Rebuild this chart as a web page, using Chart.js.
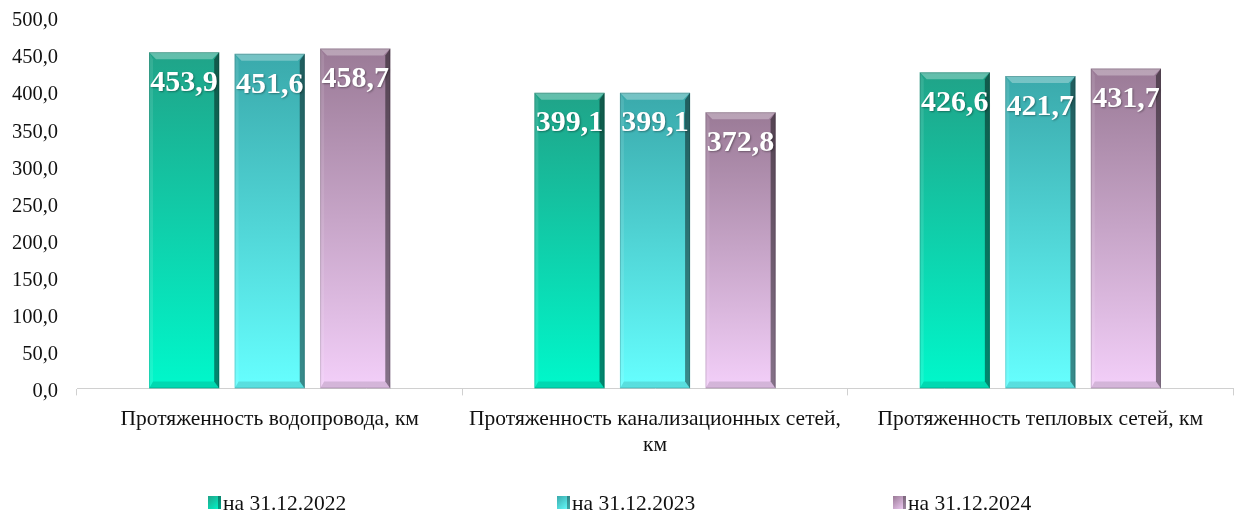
<!DOCTYPE html>
<html>
<head>
<meta charset="utf-8">
<script src="https://cdn.jsdelivr.net/npm/chart.js@4.4.1/dist/chart.umd.min.js"></script>
<style>
    html, body { margin: 0; padding: 0; background: #fff; }
    #wrap { width: 1246px; height: 517px; position: relative; }
</style>
</head>
<body>
<div id="wrap"><canvas id="chart"></canvas></div>
<script>
// --- Data ---
const CATEGORIES = [
    "Протяженность водопровода, км",
    ["Протяженность канализационных сетей,", "км"],
    "Протяженность тепловых сетей, км",
];
const SERIES_LABELS = ["на 31.12.2022", "на 31.12.2023", "на 31.12.2024"];
const VALUES_2022 = [453.9, 399.1, 426.6];
const VALUES_2023 = [451.6, 399.1, 421.7];
const VALUES_2024 = [458.7, 372.8, 431.7];
const Y_MIN = 0;
const Y_MAX = 500;
const Y_STEP = 50;

// top (dark) -> bottom (bright) colours per series
const SERIES_COLORS = [
    { top: "#20a388", bottom: "#00f8cb" },
    { top: "#3aa9ab", bottom: "#66ffff" },
    { top: "#9a7a96", bottom: "#f3cff9" },
];

const FONT = "'Liberation Serif', 'Times New Roman', serif";

function fmt(v) {
    return v.toFixed(1).replace(".", ",");
}

function barGradient(ctx, i) {
    const chart = ctx.chart;
    const c = SERIES_COLORS[i];
    if (!chart.chartArea || ctx.type !== "data") return c.bottom;
    const y = chart.scales.y;
    const top = y.getPixelForValue(ctx.raw);
    const base = y.getPixelForValue(0);
    const g = chart.ctx.createLinearGradient(0, top, 0, base);
    g.addColorStop(0, c.top);
    g.addColorStop(1, c.bottom);
    return g;
}

// bevel edges + value labels on each bar
const bevelPlugin = {
    id: "bevel",
    afterDatasetsDraw(chart) {
        const ctx = chart.ctx;
        chart.data.datasets.forEach((ds, di) => {
            const meta = chart.getDatasetMeta(di);
            meta.data.forEach((bar, i) => {
                const l = bar.x - bar.width / 2;
                const r = bar.x + bar.width / 2;
                const t = bar.y;
                const b = bar.base;
                const s = 7;
                ctx.save();
                // top bevel
                ctx.fillStyle = "rgba(255,255,255,0.3)";
                ctx.beginPath();
                ctx.moveTo(l, t); ctx.lineTo(r, t); ctx.lineTo(r - s, t + s); ctx.lineTo(l + s, t + s);
                ctx.closePath(); ctx.fill();
                // left bevel
                ctx.fillStyle = "rgba(255,255,255,0.1)";
                ctx.beginPath();
                ctx.moveTo(l, t); ctx.lineTo(l + 4, t + s); ctx.lineTo(l + 4, b - s); ctx.lineTo(l, b);
                ctx.closePath(); ctx.fill();
                // right bevel
                ctx.fillStyle = "rgba(0,0,0,0.45)";
                ctx.beginPath();
                ctx.moveTo(r, t); ctx.lineTo(r - 5, t + s); ctx.lineTo(r - 5, b - s); ctx.lineTo(r, b);
                ctx.closePath(); ctx.fill();
                // bottom bevel
                ctx.fillStyle = "rgba(0,0,0,0.12)";
                ctx.beginPath();
                ctx.moveTo(l, b); ctx.lineTo(l + 4, b - s); ctx.lineTo(r - 5, b - s); ctx.lineTo(r, b);
                ctx.closePath(); ctx.fill();
                // thin outline
                ctx.strokeStyle = "rgba(0,0,0,0.15)";
                ctx.lineWidth = 1;
                ctx.strokeRect(l + 0.5, t + 0.5, r - l - 1, b - t - 1);
                // value label
                ctx.font = "bold 30px " + FONT;
                ctx.fillStyle = "#fff";
                ctx.textAlign = "center";
                ctx.textBaseline = "middle";
                ctx.shadowColor = "rgba(0,0,0,0.35)";
                ctx.shadowBlur = 2;
                ctx.shadowOffsetX = 1;
                ctx.shadowOffsetY = 1;
                ctx.fillText(fmt(ds.data[i]), bar.x, t + 31);
                ctx.restore();
            });
        });
    },
};

// legend spread wide along the bottom
const wideLegend = {
    id: "wideLegend",
    afterDraw(chart) {
        const ctx = chart.ctx;
        const starts = [208, 557, 893];
        const cy = 503;
        ctx.save();
        ctx.font = "21.5px " + FONT;
        ctx.textBaseline = "middle";
        ctx.textAlign = "left";
        chart.data.datasets.forEach((ds, i) => {
            const c = SERIES_COLORS[i];
            const x = starts[i];
            const g = ctx.createLinearGradient(x, cy - 7, x + 12, cy + 6);
            g.addColorStop(0, c.top);
            g.addColorStop(1, c.bottom);
            ctx.fillStyle = g;
            ctx.fillRect(x, cy - 7, 13, 13);
            ctx.fillStyle = "rgba(0,0,0,0.35)";
            ctx.fillRect(x + 10, cy - 7, 3, 13);
            ctx.fillStyle = "#111";
            ctx.fillText(ds.label, x + 15, cy + 1);
        });
        ctx.restore();
    },
};

const seriesValues = [VALUES_2022, VALUES_2023, VALUES_2024];

new Chart(document.getElementById("chart").getContext("2d"), {
    type: "bar",
    data: {
        labels: CATEGORIES,
        datasets: seriesValues.map((vals, i) => ({
            label: SERIES_LABELS[i],
            data: vals,
            backgroundColor: (ctx) => barGradient(ctx, i),
            borderWidth: 0,
            categoryPercentage: 0.666,
            barPercentage: 0.82,
        })),
    },
    options: {
        responsive: true,
        maintainAspectRatio: false,
        animation: false,
        layout: { padding: { left: 0, right: 13, top: 0, bottom: 48 } },
        plugins: {
            legend: { display: false },
            tooltip: { enabled: false },
        },
        scales: {
            x: {
                grid: {
                    display: true,
                    drawOnChartArea: false,
                    drawTicks: true,
                    tickLength: 7,
                    color: "#d0d0d0",
                },
                border: { display: true, color: "#d0d0d0", width: 1 },
                ticks: {
                    color: "#111",
                    font: { size: 21.5, family: FONT },
                    padding: 11,
                    maxRotation: 0,
                    autoSkip: false,
                },
            },
            y: {
                min: Y_MIN,
                max: Y_MAX,
                grid: { display: false, drawTicks: false },
                border: { display: false },
                afterFit: (scale) => {
                    scale.width = 77;
                    scale.paddingTop = 18;
                    scale.paddingBottom = 0;
                },
                ticks: {
                    stepSize: Y_STEP,
                    color: "#111",
                    font: { size: 20.5, family: FONT },
                    padding: 19,
                    labelOffset: 3,
                    callback: (v) => fmt(v),
                },
            },
        },
    },
    plugins: [bevelPlugin, wideLegend],
});
</script>
</body>
</html>
